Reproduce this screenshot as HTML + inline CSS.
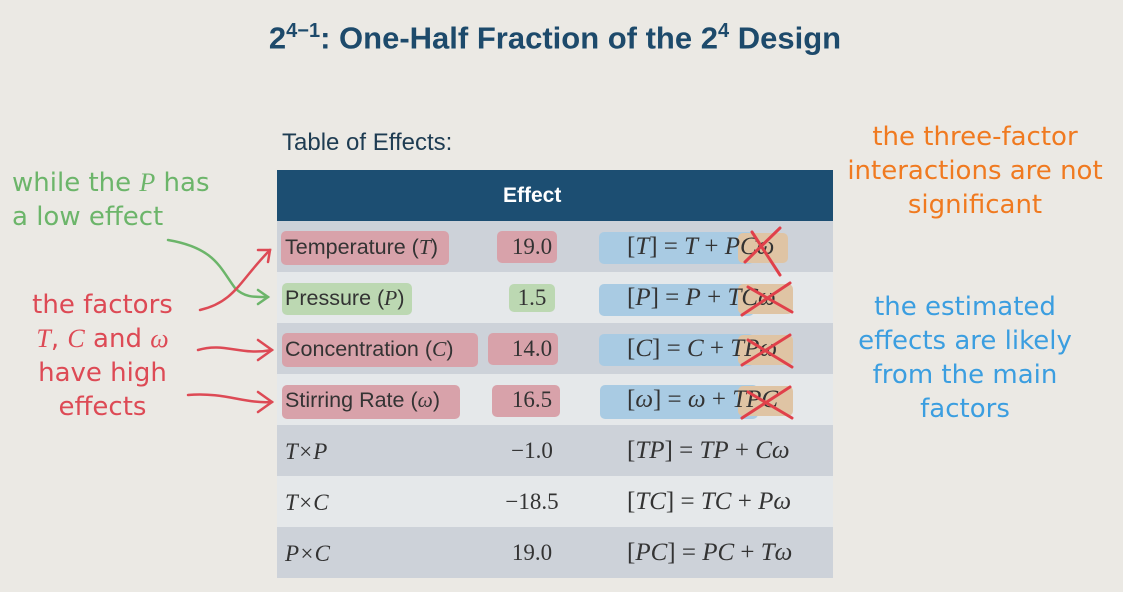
<!DOCTYPE html>
<html><head><meta charset="utf-8"><style>
body{margin:0;width:1123px;height:592px;background:#ebe9e4;position:relative;overflow:hidden;font-family:"Liberation Sans",sans-serif}
.a{position:absolute;white-space:nowrap}
.title{left:0;width:1110px;text-align:center;top:20px;font-size:31px;font-weight:bold;color:#1d4a6b}
.row{position:absolute;left:277px;width:556px;height:51px}
.c1{position:absolute;left:8px;top:14px;font-size:21.5px;color:#333}
.c2{position:absolute;left:215px;width:80px;text-align:center;top:13px;font-size:23px;color:#333;font-family:"Liberation Serif",serif}
.c3{position:absolute;left:350px;top:12px;font-size:25px;color:#333;font-family:"Liberation Serif",serif}
.m{font-family:"Liberation Serif",serif;font-style:italic}
.ann{font-family:"DejaVu Sans",sans-serif;font-size:26px;text-align:center;line-height:34px}
.hl{position:absolute;border-radius:5px}
</style></head><body>
<div class="a title">2<sup style="font-size:20px">4−1</sup>: One-Half Fraction of the 2<sup style="font-size:20px">4</sup> Design</div>
<div class="a" style="left:282px;top:129px;font-size:24px;color:#1e3c52">Table of Effects:</div>
<div class="row" style="top:170px;height:51px;background:#1c4e72"><div class="a" style="left:226px;top:14px;color:#fff;font-weight:bold;font-size:21px">Effect</div></div>
<div class="row" style="top:221px;background:#cdd2d9"></div>
<div class="row" style="top:272px;background:#e5e8ea"></div>
<div class="row" style="top:323px;background:#cdd2d9"></div>
<div class="row" style="top:374px;background:#e5e8ea"></div>
<div class="row" style="top:425px;background:#cdd2d9"></div>
<div class="row" style="top:476px;background:#e5e8ea"></div>
<div class="row" style="top:527px;background:#cdd2d9"></div>
<div class="hl" style="left:281px;top:231px;width:168px;height:34px;background:#d8a2aa"></div>
<div class="hl" style="left:497px;top:231px;width:60px;height:32px;background:#d8a2aa"></div>
<div class="hl" style="left:282px;top:283px;width:130px;height:32px;background:#bcd8b2"></div>
<div class="hl" style="left:509px;top:284px;width:46px;height:28px;background:#bcd8b2"></div>
<div class="hl" style="left:282px;top:333px;width:196px;height:34px;background:#d8a2aa"></div>
<div class="hl" style="left:488px;top:333px;width:70px;height:32px;background:#d8a2aa"></div>
<div class="hl" style="left:282px;top:385px;width:178px;height:34px;background:#d8a2aa"></div>
<div class="hl" style="left:492px;top:385px;width:68px;height:32px;background:#d8a2aa"></div>
<div class="hl" style="left:599px;top:232px;width:155px;height:32px;background:#a9cbe3"></div>
<div class="hl" style="left:599px;top:284px;width:155px;height:32px;background:#a9cbe3"></div>
<div class="hl" style="left:599px;top:334px;width:155px;height:32px;background:#a9cbe3"></div>
<div class="hl" style="left:600px;top:385px;width:158px;height:34px;background:#a9cbe3"></div>
<div class="hl" style="left:738px;top:233px;width:50px;height:30px;background:#dfc4a4"></div>
<div class="hl" style="left:738px;top:284px;width:55px;height:30px;background:#dfc4a4"></div>
<div class="hl" style="left:738px;top:335px;width:55px;height:30px;background:#dfc4a4"></div>
<div class="hl" style="left:738px;top:386px;width:55px;height:30px;background:#dfc4a4"></div>
<div class="row" style="top:221px"><div class="c1">Temperature (<span class="m">T</span>)</div><div class="c2">19.0</div><div class="c3">[<i>T</i>] = <i>T</i> + <i>PCω</i></div></div>
<div class="row" style="top:272px"><div class="c1">Pressure (<span class="m">P</span>)</div><div class="c2">1.5</div><div class="c3">[<i>P</i>] = <i>P</i> + <i>TCω</i></div></div>
<div class="row" style="top:323px"><div class="c1">Concentration (<span class="m">C</span>)</div><div class="c2">14.0</div><div class="c3">[<i>C</i>] = <i>C</i> + <i>TPω</i></div></div>
<div class="row" style="top:374px"><div class="c1">Stirring Rate (<span class="m">ω</span>)</div><div class="c2">16.5</div><div class="c3">[<i>ω</i>] = <i>ω</i> + <i>TPC</i></div></div>
<div class="row" style="top:425px"><div class="c1 m" style="font-size:23px">T×P</div><div class="c2">−1.0</div><div class="c3">[<i>TP</i>] = <i>TP</i> + <i>Cω</i></div></div>
<div class="row" style="top:476px"><div class="c1 m" style="font-size:23px">T×C</div><div class="c2">−18.5</div><div class="c3">[<i>TC</i>] = <i>TC</i> + <i>Pω</i></div></div>
<div class="row" style="top:527px"><div class="c1 m" style="font-size:23px">P×C</div><div class="c2">19.0</div><div class="c3">[<i>PC</i>] = <i>PC</i> + <i>Tω</i></div></div>
<div class="a ann" style="left:12px;top:166px;color:#6cb56a;text-align:left">while the <i class="m">P</i> has<br>a low effect</div>
<div class="a ann" style="left:15px;top:288px;width:175px;color:#dd4a55">the factors<br><i class="m">T</i>, <i class="m">C</i> and <i class="m">ω</i><br>have high<br>effects</div>
<div class="a ann" style="left:830px;top:120px;width:290px;color:#f07a20">the three-factor<br>interactions are not<br>significant</div>
<div class="a ann" style="left:830px;top:290px;width:270px;color:#3b9ee0">the estimated<br>effects are likely<br>from the main<br>factors</div>
<svg class="a" style="left:0;top:0" width="1123" height="592" fill="none" stroke-linecap="round" stroke-width="2.5">
<path d="M168 240 C215 248 220 268 235 288 C245 298 255 297 268 297" stroke="#6cb56a"/>
<path d="M258 290 L268 297 L258 304" stroke="#6cb56a"/>
<path d="M200 310 C235 302 240 280 270 250" stroke="#dd4a55"/>
<path d="M258 250 L270 250 L268 262" stroke="#dd4a55"/>
<path d="M198 350 C225 342 240 356 272 350" stroke="#dd4a55"/>
<path d="M258 340 L272 350 L258 360" stroke="#dd4a55"/>
<path d="M188 395 C225 392 245 404 272 402" stroke="#dd4a55"/>
<path d="M258 392 L272 402 L258 412" stroke="#dd4a55"/>
<g stroke="#e0404a" stroke-width="3">
<path d="M745 262 L780 228 M752 232 L780 275"/>
<path d="M742 315 L790 283 M748 287 L792 312"/>
<path d="M742 365 L790 335 M748 340 L792 367"/>
<path d="M742 418 L790 387 M748 392 L792 418"/>
</g>
</svg>
</body></html>
